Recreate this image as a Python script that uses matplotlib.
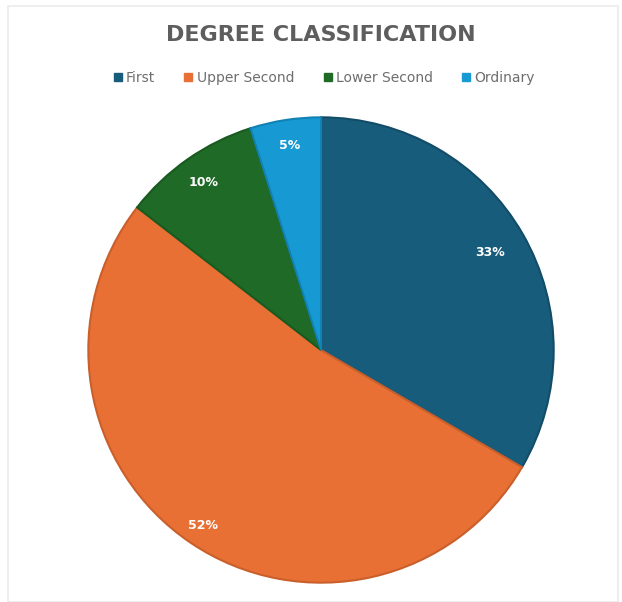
import matplotlib
matplotlib.use("Agg")
import numpy as np
import matplotlib.pyplot as plt
from matplotlib.patches import Rectangle
from matplotlib.lines import Line2D

categories = ["First", "Upper Second", "Lower Second", "Ordinary"]
values = [33.4, 52.1, 9.6, 4.9]
colors = ["#185C7C", "#E87034", "#1F6A27", "#179AD4"]
edges = ["#134C67", "#C95F2B", "#185A20", "#1282B4"]
title = "DEGREE CLASSIFICATION"
label_dist = [0.84, 0.91, 0.88, 0.89]

W, H = 622, 602
fig = plt.figure(figsize=(W / 100, H / 100), dpi=100)
fig.patch.set_facecolor("white")

# light frame
fig.add_artist(Rectangle((8 / W, 0), (W - 12) / W, (H - 6) / H, transform=fig.transFigure,
                         fill=False, edgecolor="#EBEBEB", linewidth=1.2))

cx, cy, r = 321, 350, 235
ax = fig.add_axes([(cx - r) / W, (H - cy - r) / H, 2 * r / W, 2 * r / H])
wedges, texts = ax.pie(values, colors=colors, startangle=90, counterclock=False,
                       wedgeprops=dict(linewidth=1.5))
for w, e, v, d in zip(wedges, edges, values, label_dist):
    w.set_edgecolor(e)
    ang = np.deg2rad((w.theta1 + w.theta2) / 2)
    ax.text(d * np.cos(ang), d * np.sin(ang), f"{v:.0f}%", ha="center", va="center",
            color="white", fontsize=9, fontweight="bold")
ax.set_aspect("equal")
ax.set_xlim(-1.01, 1.01)
ax.set_ylim(-1.01, 1.01)
ax.axis("off")

fig.text(cx / W, 1 - 35 / H, title, ha="center", va="center", fontsize=16,
         fontweight="bold", color="#5E5E5E")

handles = [Line2D([0], [0], marker="s", linestyle="", markersize=6, markerfacecolor=c,
                  markeredgecolor=c) for c in colors]
fig.legend(handles, categories, loc="center", bbox_to_anchor=(cx / W + 0.003, 1 - 78 / H), ncol=4,
           frameon=False, fontsize=10, labelcolor="#6E6E6E", handletextpad=0.1,
           columnspacing=1.9, handlelength=1.0)

fig.savefig("out.png", dpi=100)
